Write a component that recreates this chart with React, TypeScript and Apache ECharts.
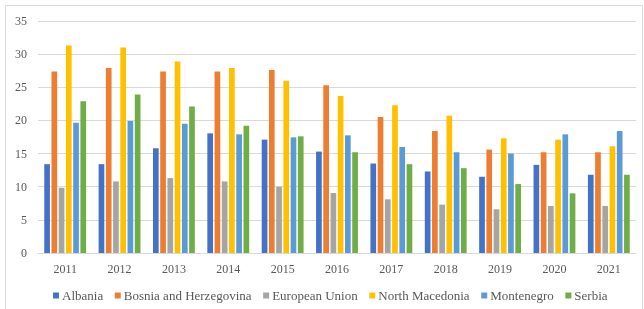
import React, { useEffect, useRef } from "react";
import * as echarts from "echarts";

const years = ["2011", "2012", "2013", "2014", "2015", "2016", "2017", "2018", "2019", "2020", "2021"];
const albania = [13.4, 13.4, 15.8, 18.05, 17.1, 15.3, 13.5, 12.3, 11.5, 13.3, 11.8];
const bosnia = [27.4, 27.9, 27.4, 27.4, 27.6, 25.3, 20.5, 18.4, 15.6, 15.2, 15.2];
const eu = [9.85, 10.8, 11.3, 10.8, 10.0, 9.05, 8.1, 7.3, 6.6, 7.1, 7.1];
const northMacedonia = [31.3, 31.0, 28.9, 27.9, 26.0, 23.7, 22.3, 20.7, 17.3, 17.1, 16.1];
const montenegro = [19.65, 19.9, 19.5, 17.9, 17.45, 17.75, 16.0, 15.2, 15.0, 17.9, 18.4];
const serbia = [22.9, 23.9, 22.1, 19.2, 17.6, 15.2, 13.4, 12.8, 10.4, 9.0, 11.8];

const seriesNames = ["Albania", "Bosnia and Herzegovina", "European Union", "North Macedonia", "Montenegro", "Serbia"];
const seriesData = [albania, bosnia, eu, northMacedonia, montenegro, serbia];
const colors = ["#4472C4", "#ED7D31", "#A5A5A5", "#FFC000", "#5B9BD5", "#70AD47"];

const font = '"Liberation Serif", "Times New Roman", serif';

export default function App() {
  const ref = useRef<HTMLDivElement>(null);
  useEffect(() => {
    if (!ref.current) return;
    const chart = echarts.init(ref.current, undefined, { renderer: "svg" });
    chart.setOption({
      animation: false,
      color: colors,
      graphic: [
        {
          type: "rect",
          shape: { x: 5.5, y: 5.5, width: 637, height: 312 },
          style: { fill: "none", stroke: "#d9d9d9", lineWidth: 1 },
          silent: true,
        },
      ],
      grid: { left: 38, right: 8, top: 21, bottom: 56, containLabel: false },
      legend: {
        top: 284,
        left: 48,
        itemWidth: 6,
        itemHeight: 6,
        itemGap: 11.6,
        icon: "rect",
        textStyle: { fontFamily: font, fontSize: 13, color: "#595959", padding: [0, 0, 0, -2] },
        data: seriesNames,
      },
      xAxis: {
        type: "category",
        data: years,
        axisLine: { lineStyle: { color: "#d9d9d9" } },
        axisTick: { show: false },
        axisLabel: { fontFamily: font, fontSize: 12, color: "#595959", margin: 10 },
      },
      yAxis: {
        type: "value",
        min: 0,
        max: 35,
        interval: 5,
        axisLine: { show: false },
        axisTick: { show: false },
        splitLine: { lineStyle: { color: "#d9d9d9" } },
        axisLabel: { fontFamily: font, fontSize: 12, color: "#595959", margin: 11 },
      },
      series: seriesNames.map((name, i) => ({
        name,
        type: "bar",
        data: seriesData[i],
        barGap: "27%",
        barCategoryGap: "23%",
      })),
    });
    return () => chart.dispose();
  }, []);
  return <div ref={ref} style={{ position: "fixed", left: 0, top: 0, width: 644, height: 309 }} />;
}
